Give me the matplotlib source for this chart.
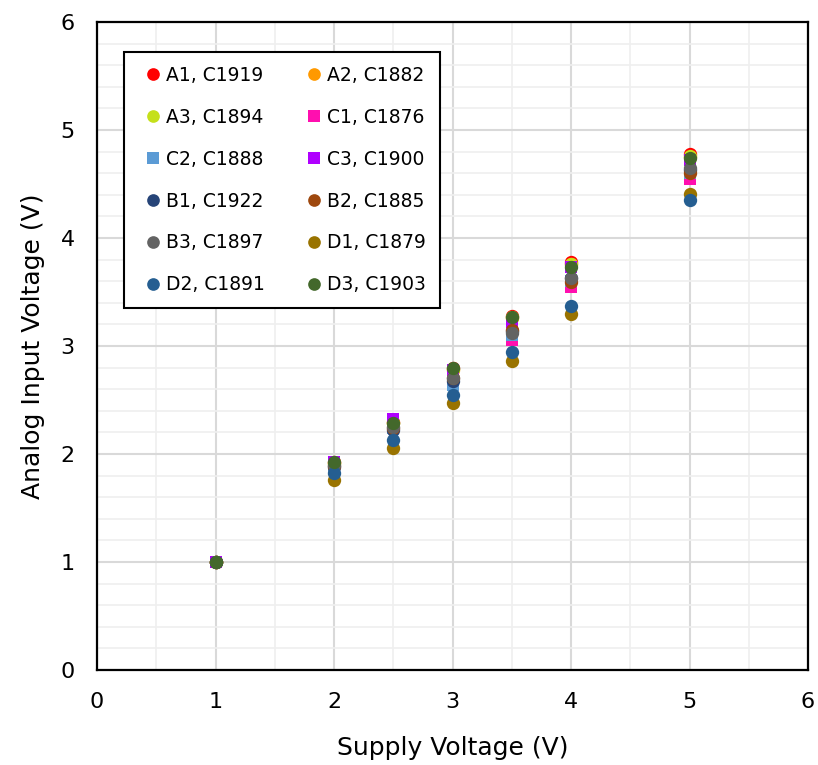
import matplotlib

matplotlib.use("Agg")
import matplotlib.pyplot as plt
from matplotlib.ticker import MultipleLocator

supply = [1, 2, 2.5, 3, 3.5, 4, 5]

series_names = [
    "A1, C1919", "A2, C1882", "A3, C1894",
    "C1, C1876", "C2, C1888", "C3, C1900",
    "B1, C1922", "B2, C1885", "B3, C1897",
    "D1, C1879", "D2, C1891", "D3, C1903",
]
series_values = [
    [1.00, 1.93, 2.30, 2.80, 3.28, 3.78, 4.78],
    [1.00, 1.92, 2.29, 2.78, 3.26, 3.76, 4.75],
    [1.00, 1.92, 2.29, 2.79, 3.27, 3.76, 4.76],
    [1.00, 1.90, 2.25, 2.65, 3.06, 3.55, 4.55],
    [1.00, 1.89, 2.24, 2.64, 3.10, 3.60, 4.60],
    [1.00, 1.93, 2.32, 2.78, 3.22, 3.73, 4.72],
    [1.00, 1.88, 2.22, 2.68, 3.14, 3.63, 4.63],
    [1.00, 1.89, 2.24, 2.70, 3.15, 3.59, 4.60],
    [1.00, 1.90, 2.25, 2.70, 3.12, 3.63, 4.65],
    [1.00, 1.76, 2.06, 2.47, 2.86, 3.30, 4.41],
    [1.00, 1.82, 2.13, 2.55, 2.94, 3.37, 4.35],
    [1.00, 1.93, 2.29, 2.80, 3.27, 3.73, 4.74],
]
series_colors = [
    "#FF0000", "#FF9900", "#C5E01A",
    "#FF0FAF", "#5B9BD5", "#B000FF",
    "#264478", "#9E480E", "#636363",
    "#997300", "#255E91", "#43682B",
]
series_markers = ["o", "o", "o", "s", "s", "s", "o", "o", "o", "o", "o", "o"]

fig = plt.figure(figsize=(8.18, 7.65), dpi=100)
ax = fig.add_axes([0.1186, 0.1242, 0.8692, 0.847])

handles = []
for name, vals, color, marker in zip(series_names, series_values, series_colors, series_markers):
    ms = 9.6 if marker == "o" else 8.8
    (h,) = ax.plot(supply, vals, linestyle="none", marker=marker, markersize=ms,
                   color=color, markeredgewidth=0, label=name)
    handles.append(h)

ax.set_xlim(0, 6)
ax.set_ylim(0, 6)
ax.xaxis.set_major_locator(MultipleLocator(1))
ax.yaxis.set_major_locator(MultipleLocator(1))
ax.xaxis.set_minor_locator(MultipleLocator(0.5))
ax.yaxis.set_minor_locator(MultipleLocator(0.2))
ax.grid(True, which="major", color="#D9D9D9", linewidth=1.5)
ax.grid(True, which="minor", color="#EFEFEF", linewidth=1.2)
ax.set_axisbelow(True)
ax.tick_params(which="both", length=0, labelsize=16, pad=16, colors="#000000")
for spine in ax.spines.values():
    spine.set_color("#000000")
    spine.set_linewidth(1.6)

ax.set_xlabel("Supply Voltage (V)", fontsize=18, labelpad=17)
ax.set_ylabel("Analog Input Voltage (V)", fontsize=18, labelpad=11)

# legend reads row-wise; matplotlib fills column-wise
order = [0, 2, 4, 6, 8, 10, 1, 3, 5, 7, 9, 11]
leg = ax.legend(
    [handles[i] for i in order], [series_names[i] for i in order],
    ncol=2, loc="upper left", bbox_to_anchor=(0.038, 0.954), borderaxespad=0,
    fontsize=13.5, handlelength=1.6, handletextpad=-0.1, columnspacing=1.8,
    labelspacing=1.22, borderpad=0.75, fancybox=False, framealpha=1,
    edgecolor="#000000", markerscale=0.95,
)
leg.get_frame().set_linewidth(1.5)

fig.savefig("out.png", dpi=100)
